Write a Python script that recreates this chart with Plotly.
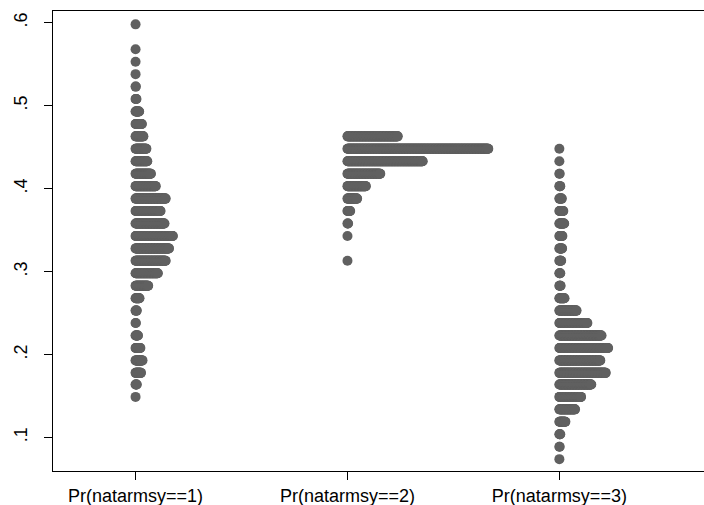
import plotly.graph_objects as go

# Categories (x positions 1, 2, 3)
categories = ["Pr(natarmsy==1)", "Pr(natarmsy==2)", "Pr(natarmsy==3)"]

# Bin centres (predicted probability) and number of observations per bin
g1_y = [0.149, 0.164, 0.178, 0.193, 0.208, 0.223, 0.238, 0.253, 0.268, 0.283,
        0.298, 0.313, 0.328, 0.343, 0.358, 0.373, 0.388, 0.403, 0.418, 0.433,
        0.448, 0.463, 0.478, 0.493, 0.508, 0.523, 0.538, 0.553, 0.568, 0.598]
g1_n = [1, 5, 19, 24, 17, 9, 2, 5, 14, 43,
        75, 101, 112, 125, 97, 84, 101, 68, 52, 40,
        37, 27, 22, 13, 4, 2, 1, 1, 1, 1]

g2_y = [0.313, 0.343, 0.358, 0.373, 0.388, 0.403, 0.418, 0.433, 0.448, 0.463]
g2_n = [1, 1, 3, 10, 33, 62, 110, 251, 469, 168]

g3_y = [0.074, 0.089, 0.104, 0.119, 0.134, 0.149, 0.164, 0.178, 0.193, 0.208,
        0.223, 0.238, 0.253, 0.268, 0.283, 0.298, 0.313, 0.328, 0.343, 0.358,
        0.373, 0.388, 0.403, 0.418, 0.433, 0.448]
g3_n = [1, 2, 4, 21, 53, 73, 107, 155, 137, 163,
        141, 94, 58, 18, 5, 4, 7, 10, 11, 17,
        14, 9, 4, 2, 1, 1]

y_ticks = [0.1, 0.2, 0.3, 0.4, 0.5, 0.6]
y_tick_labels = [".1", ".2", ".3", ".4", ".5", ".6"]

DOT_STEP = 0.00142  # horizontal spacing between stacked dots (x units)
DOT_COLOR = "#606060"
FONT = "Liberation Sans, Arial, sans-serif"

fig = go.Figure()
for gi, (ys, ns) in enumerate([(g1_y, g1_n), (g2_y, g2_n), (g3_y, g3_n)], start=1):
    xs, yy = [], []
    for yv, n in zip(ys, ns):
        for i in range(n):
            xs.append(gi + i * DOT_STEP)
            yy.append(yv)
    fig.add_trace(go.Scatter(
        x=xs, y=yy, mode="markers",
        marker=dict(size=10, color=DOT_COLOR, line=dict(width=0)),
        showlegend=False, hoverinfo="skip",
    ))

fig.update_layout(
    width=704, height=505,
    margin=dict(l=53, r=0, t=11, b=34),
    paper_bgcolor="white", plot_bgcolor="white",
    font=dict(family=FONT, size=18, color="black"),
    xaxis=dict(
        range=[0.6104, 3.6825],
        tickmode="array", tickvals=[1, 2, 3], ticktext=categories,
        showgrid=False, zeroline=False,
        showline=True, linecolor="black", linewidth=1.3, mirror=True,
        ticks="outside", ticklen=8, tickwidth=1, tickcolor="black",
        tickfont=dict(family=FONT, size=18, color="black"),
    ),
    yaxis=dict(
        range=[0.0597, 0.6141],
        tickmode="array", tickvals=y_ticks, ticktext=y_tick_labels,
        tickangle=-90, ticklabelstandoff=10,
        showgrid=False, zeroline=False,
        showline=True, linecolor="black", linewidth=1.3,
        ticks="outside", ticklen=8, tickwidth=1, tickcolor="black",
        tickfont=dict(family=FONT, size=18, color="black"),
    ),
)

fig.write_html("out.html")
